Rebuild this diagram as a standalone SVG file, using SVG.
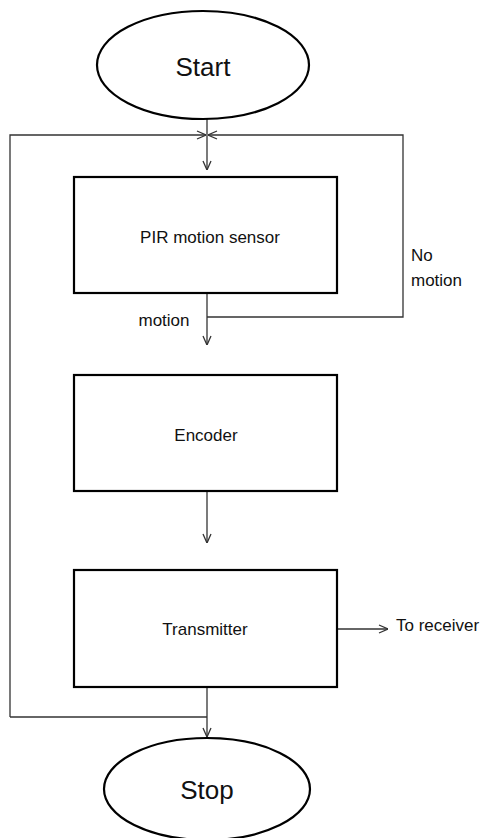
<svg xmlns="http://www.w3.org/2000/svg" width="490" height="838" viewBox="0 0 490 838">
<style>
.node{fill:#fff;stroke:#000;stroke-width:2.2}
.conn{fill:none;stroke:#333;stroke-width:1.3}
.t{font-family:"Liberation Sans",Arial,sans-serif;fill:#111;text-anchor:middle;dominant-baseline:central;font-size:17px}
.big{font-size:26px}
.l{text-anchor:start}
</style>
<defs>
<marker id="ah" viewBox="0 0 10 10" refX="10" refY="5" markerWidth="10" markerHeight="10" markerUnits="userSpaceOnUse" orient="auto">
<path d="M1,1 L10,5 L1,9" fill="none" stroke="#333" stroke-width="1.3"/>
</marker>
</defs>
<rect width="490" height="838" fill="#fff"/>
<g id="connectors">
<path class="conn" d="M207,119 V170" marker-end="url(#ah)"/>
<path class="conn" d="M10,717 V135 H206" marker-end="url(#ah)"/>
<path class="conn" d="M207,317 H403 V135 H208" marker-end="url(#ah)"/>
<path class="conn" d="M207,293 V345" marker-end="url(#ah)"/>
<path class="conn" d="M207,491 V543" marker-end="url(#ah)"/>
<path class="conn" d="M207,687 V737" marker-end="url(#ah)"/>
<path class="conn" d="M10,717 H207"/>
<path class="conn" d="M337,629 H388" marker-end="url(#ah)"/>
</g>
<g id="start">
<ellipse class="node" cx="203" cy="65" rx="106" ry="54"/>
<text class="t big" x="203" y="67">Start</text>
</g>
<g id="pir">
<rect class="node" x="74" y="177" width="263" height="116"/>
<text class="t" x="210" y="237">PIR motion  sensor</text>
</g>
<g id="encoder">
<rect class="node" x="74" y="375" width="263" height="116"/>
<text class="t" x="206" y="435">Encoder</text>
</g>
<g id="transmitter">
<rect class="node" x="74" y="570" width="263" height="117"/>
<text class="t" x="205" y="629">Transmitter</text>
</g>
<g id="stop">
<ellipse class="node" cx="207" cy="789" rx="103" ry="51"/>
<text class="t big" x="207" y="790">Stop</text>
</g>
<g id="labels">
<text class="t" x="164" y="320">motion</text>
<text class="t l" x="411" y="255">No</text>
<text class="t l" x="411" y="280">motion</text>
<text class="t l" x="396" y="625">To receiver</text>
</g>
</svg>
